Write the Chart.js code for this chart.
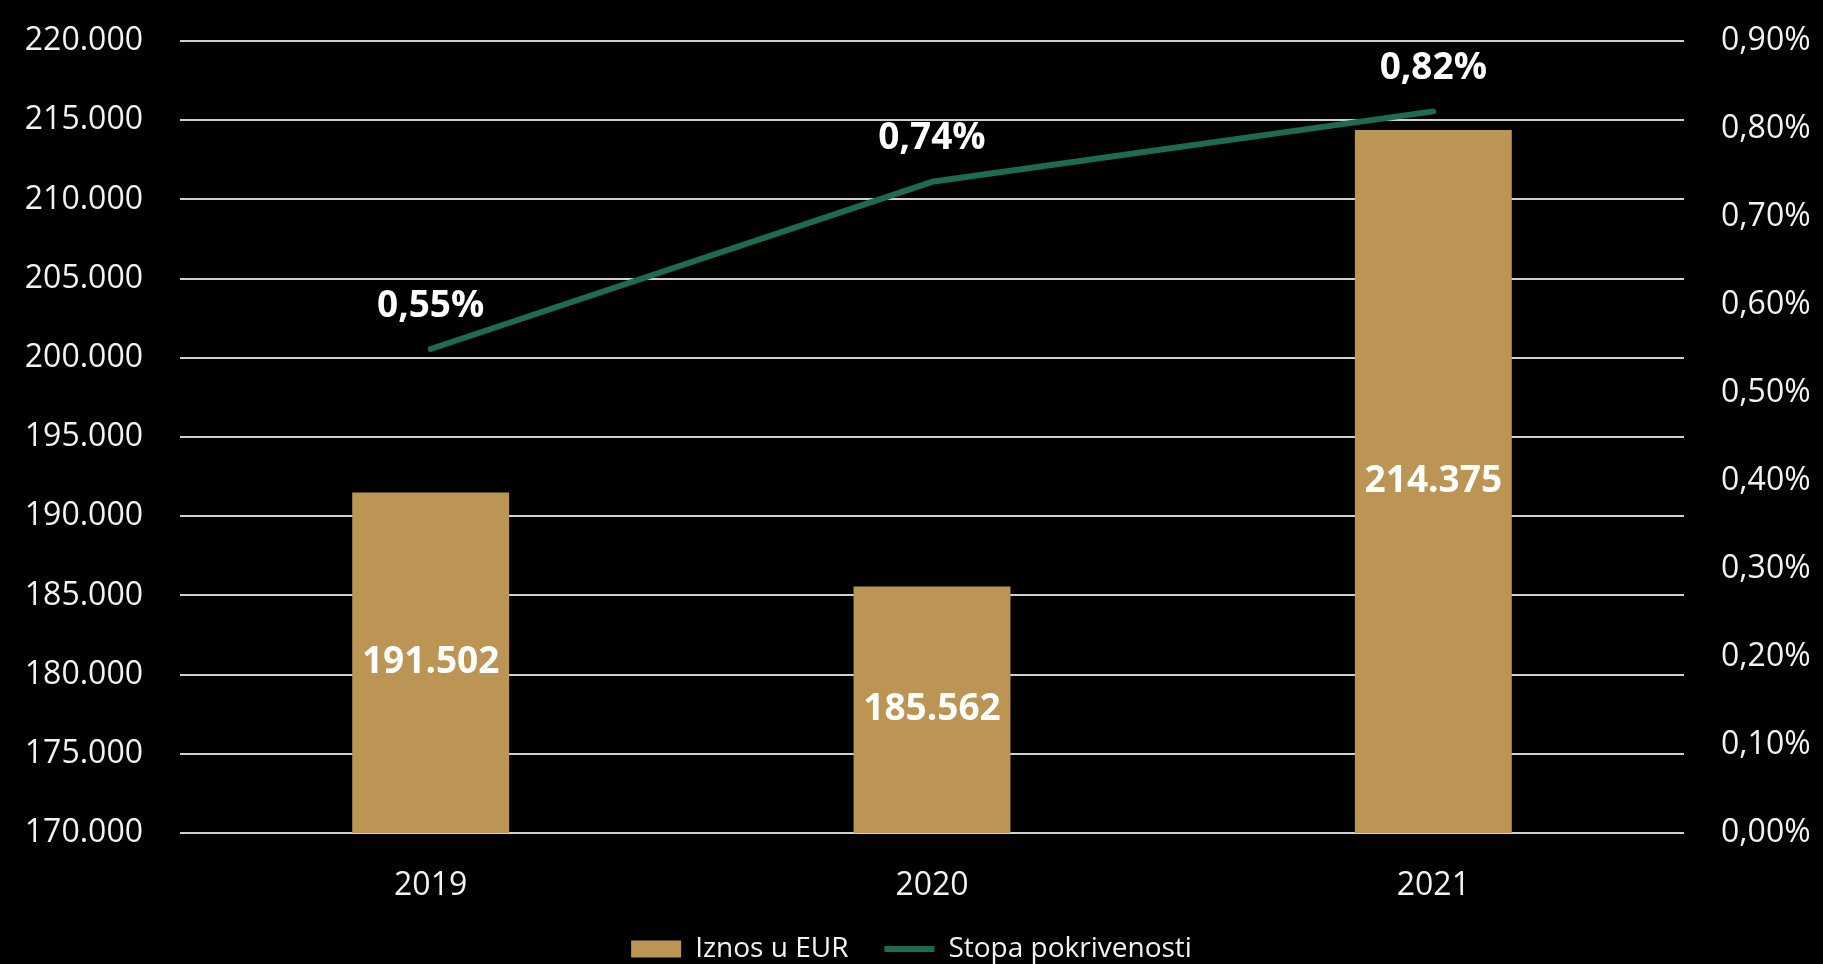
<!DOCTYPE html>
<html>
<head>
<meta charset="utf-8">
<script src="https://cdn.jsdelivr.net/npm/chart.js@4.4.1/dist/chart.umd.min.js"></script>
<style>
  html, body { margin: 0; padding: 0; background: #000; overflow: hidden; }
  #wrap { width: 1823px; height: 973px; position: relative; }
</style>
</head>
<body>
<div id="wrap"><canvas id="chart"></canvas></div>
<script>
const years = ['2019', '2020', '2021'];
const iznos = [191502, 185562, 214375];
const stopa = [0.55, 0.74, 0.82];
const seriesNames = ['Iznos u EUR', 'Stopa pokrivenosti'];

const fmtEur = v => Math.round(v).toString().replace(/\B(?=(\d{3})+(?!\d))/g, '.');
const fmtPct = v => v.toFixed(2).replace('.', ',') + '%';

Chart.defaults.font.family = "'Open Sans', sans-serif";
Chart.defaults.color = '#f2f2f2';

// draws the value labels (centered in the visible bar, above line points)
const valueLabels = {
  id: 'valueLabels',
  afterDatasetsDraw(chart) {
    const ctx = chart.ctx;
    const yScale = chart.scales.y;
    ctx.save();
    ctx.fillStyle = '#ffffff';
    ctx.font = "bold 37px 'Open Sans', sans-serif";
    ctx.textAlign = 'center';
    ctx.textBaseline = 'middle';
    chart.getDatasetMeta(0).data.forEach((el, i) => {
      // bar base sits at value 0, far below the clipped area
      const base = Math.min(el.base, yScale.bottom);
      ctx.fillText(fmtEur(iznos[i]), el.x, (el.y + base) / 2);
    });
    chart.getDatasetMeta(1).data.forEach((el, i) => {
      ctx.fillText(fmtPct(stopa[i]), el.x, el.y - 43);
    });
    ctx.restore();
  }
};

// drop the extra top/bottom padding v4 adds for tick labels
function noVPad(s) {
  s.paddingTop = 0;
  s.paddingBottom = 0;
}

new Chart(document.getElementById('chart'), {
  type: 'bar',
  data: {
    labels: years,
    datasets: [{
      label: seriesNames[0],
      data: iznos,
      backgroundColor: '#bc9554',
      borderWidth: 0,
      barPercentage: 0.313,
      categoryPercentage: 1,
      pointStyle: 'rect',
      yAxisID: 'y',
      order: 2
    }, {
      type: 'line',
      label: seriesNames[1],
      data: stopa,
      borderColor: '#1d6b50',
      backgroundColor: '#1d6b50',
      borderWidth: 6,
      borderCapStyle: 'round',
      borderJoinStyle: 'round',
      tension: 0,
      pointRadius: 0,
      pointStyle: 'line',
      yAxisID: 'y1',
      order: 1
    }]
  },
  options: {
    responsive: true,
    maintainAspectRatio: false,
    animation: false,
    layout: { padding: { top: 41, bottom: 0, left: 0, right: 0 } },
    plugins: {
      tooltip: { enabled: false },
      legend: {
        position: 'bottom',
        labels: {
          usePointStyle: true,
          pointStyleWidth: 50,
          boxHeight: 17,
          padding: 36,
          color: '#f2f2f2',
          font: { size: 28 },
          sort: (a, b) => a.datasetIndex - b.datasetIndex
        }
      }
    },
    scales: {
      x: {
        grid: { display: false, drawTicks: false },
        border: { display: false },
        ticks: { padding: 34, font: { size: 32 }, color: '#f2f2f2' },
        afterFit(s) { s.height = 66; }
      },
      y: {
        position: 'left',
        min: 170000,
        max: 220000,
        grid: { color: '#cfcfcf', lineWidth: 2, drawTicks: false },
        border: { display: false },
        ticks: {
          stepSize: 5000,
          padding: 37,
          font: { size: 32 },
          color: '#f2f2f2',
          callback: v => fmtEur(v)
        },
        afterFit(s) { s.width = 180; noVPad(s); }
      },
      y1: {
        position: 'right',
        min: 0,
        max: 0.9,
        grid: { drawOnChartArea: false, drawTicks: false },
        border: { display: false },
        ticks: {
          stepSize: 0.1,
          padding: 37,
          font: { size: 32 },
          color: '#f2f2f2',
          callback: v => fmtPct(v)
        },
        afterFit(s) { s.width = 139; noVPad(s); }
      }
    }
  },
  plugins: [valueLabels]
});
</script>
</body>
</html>
